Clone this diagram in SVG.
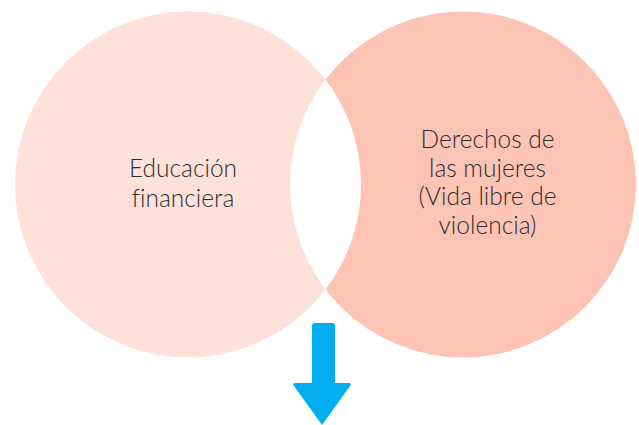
<svg xmlns="http://www.w3.org/2000/svg" width="639" height="425" viewBox="0 0 639 425">
<style>
.t{font-family:Lato,"Open Sans","Liberation Sans",sans-serif;font-weight:300;font-size:24.5px;fill:#2e2e2e;text-anchor:middle;font-variant-ligatures:none}
</style>
<rect width="639" height="425" fill="#ffffff"/>
<g id="left-circle">
<circle cx="188" cy="184.5" r="173" fill="#FEE1D9"/>
</g>
<g id="right-circle">
<circle cx="463" cy="184.5" r="173" fill="#FDC4B6"/>
</g>
<g id="intersection">
<path d="M325.5 79.5 A173 173 0 0 1 325.5 289.5 A173 173 0 0 1 325.5 79.5 Z" fill="#ffffff"/>
</g>
<g id="label-left">
<text class="t" x="183" y="177">Educación</text>
<text class="t" x="183" y="206.5">financiera</text>
</g>
<g id="label-right">
<text class="t" x="487.5" y="148">Derechos de</text>
<text class="t" x="487.5" y="176.5">las mujeres</text>
<text class="t" x="487.5" y="205">(Vida libre de</text>
<text class="t" x="487.5" y="233.5">violencia)</text>
</g>
<g id="connectors">
<path d="M312 326 Q312 323 315 323 L332 323 Q335 323 335 326 L335 383 L349 383 Q352 383 350 386 L322 425 L294 386 Q292 383 295 383 L312 383 Z" fill="#00AEEF"/>
</g>
</svg>
